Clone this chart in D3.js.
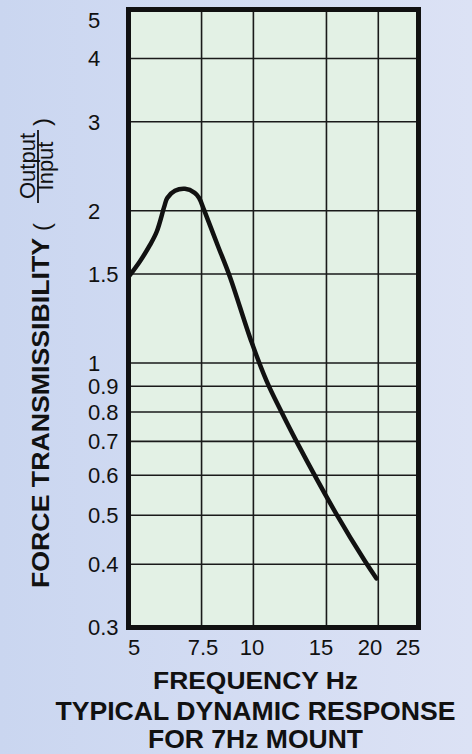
<!DOCTYPE html>
<html>
<head>
<meta charset="utf-8">
<script src="https://cdn.jsdelivr.net/npm/d3@7"></script>
<style>
  html, body { margin: 0; padding: 0; }
  body { width: 472px; height: 754px; overflow: hidden; }
  text { font-family: "Liberation Sans", Arial, sans-serif; fill: #111; }
</style>
</head>
<body>
<div class="chart"></div>
<script>
// values
var freqHz = [5.0, 5.33, 5.63, 5.85, 6.1, 6.2, 6.47, 6.84, 7.22, 7.4, 7.6,
              8.2, 8.78, 9.9, 10.77, 11.6, 12.7, 15.8, 18.6, 19.8];
var transmissibility = [1.48, 1.59, 1.71, 1.82, 2.04, 2.12, 2.19, 2.21, 2.17, 2.12, 2.01,
                        1.71, 1.48, 1.10, 0.92, 0.81, 0.70, 0.505, 0.405, 0.375];

var xTicks = [5, 7.5, 10, 15, 20, 25];
var yTicks = [0.3, 0.4, 0.5, 0.6, 0.7, 0.8, 0.9, 1, 1.5, 2, 3, 4, 5];

var W = 472, H = 754;
var plot = {left: 128.5, right: 418.5, top: 9.5, bottom: 627.5};

var x = d3.scaleLog()
    .domain([5, 25])
    .range([plot.left, plot.right]);

var y = d3.scaleLog()
    .domain([0.3, 5])
    .range([plot.bottom, plot.top]);

// tick labels in the original sit a bit inside the grid lines
var xLabel = x.copy().range([134, 408]);

var svg = d3.select('.chart')
    .append('svg')
    .attr('width', W)
    .attr('height', H);

var defs = svg.append('defs');
var bg = defs.append('linearGradient')
    .attr('id', 'bg')
    .attr('x1', 0).attr('x2', 1).attr('y1', 0).attr('y2', 0);
bg.append('stop').attr('offset', 0).attr('stop-color', '#cad6f0');
bg.append('stop').attr('offset', 1).attr('stop-color', '#dce2f5');

svg.append('rect')
    .attr('width', W)
    .attr('height', H)
    .attr('fill', 'url(#bg)');

svg.append('rect')
    .attr('x', plot.left)
    .attr('y', plot.top)
    .attr('width', plot.right - plot.left)
    .attr('height', plot.bottom - plot.top)
    .attr('fill', '#e3f1e5');

// grid
var grid = svg.append('g')
    .attr('stroke', '#1a1a1a')
    .attr('stroke-width', 1.6);

grid.selectAll('.vgrid')
    .data(xTicks.slice(1, -1))
    .enter()
    .append('line')
    .attr('class', 'vgrid')
    .attr('x1', function (d) { return x(d); })
    .attr('x2', function (d) { return x(d); })
    .attr('y1', plot.top)
    .attr('y2', plot.bottom);

grid.selectAll('.hgrid')
    .data(yTicks.slice(1, -1))
    .enter()
    .append('line')
    .attr('class', 'hgrid')
    .attr('x1', plot.left)
    .attr('x2', plot.right)
    .attr('y1', function (d) { return y(d); })
    .attr('y2', function (d) { return y(d); });

// response curve
var line = d3.line()
    .x(function (d, i) { return x(freqHz[i]); })
    .y(function (d) { return y(d); })
    .curve(d3.curveCatmullRom.alpha(0.5));

svg.append('path')
    .datum(transmissibility)
    .attr('d', line)
    .attr('fill', 'none')
    .attr('stroke', '#111')
    .attr('stroke-width', 4.5)
    .attr('stroke-linecap', 'round')
    .attr('stroke-linejoin', 'round');

// frame
svg.append('rect')
    .attr('x', plot.left)
    .attr('y', plot.top)
    .attr('width', plot.right - plot.left)
    .attr('height', plot.bottom - plot.top)
    .attr('fill', 'none')
    .attr('stroke', '#111')
    .attr('stroke-width', 5);

// tick labels
svg.append('g')
    .selectAll('text')
    .data(yTicks)
    .enter()
    .append('text')
    .attr('x', 88)
    .attr('y', function (d) { return Math.max(y(d), 20); })
    .attr('dy', '0.36em')
    .attr('font-size', 22)
    .text(function (d) { return d; });

svg.append('g')
    .selectAll('text')
    .data(xTicks)
    .enter()
    .append('text')
    .attr('x', function (d) { return xLabel(d); })
    .attr('y', 655)
    .attr('text-anchor', 'middle')
    .attr('font-size', 22)
    .text(function (d) { return d; });

// y title
var yt = svg.append('g')
    .attr('transform', 'translate(49,588) rotate(-90)');

yt.append('text')
    .attr('x', 0)
    .attr('y', 0)
    .attr('font-size', 24)
    .attr('font-weight', 'bold')
    .attr('textLength', 350)
    .attr('lengthAdjust', 'spacingAndGlyphs')
    .text('FORCE TRANSMISSIBILITY');

yt.append('text')
    .attr('x', 357)
    .attr('y', 1)
    .attr('font-size', 24)
    .text('(');

yt.append('text')
    .attr('x', 422)
    .attr('y', -14)
    .attr('text-anchor', 'middle')
    .attr('font-size', 22)
    .text('Output');

yt.append('line')
    .attr('x1', 385)
    .attr('x2', 458)
    .attr('y1', -11)
    .attr('y2', -11)
    .attr('stroke', '#111')
    .attr('stroke-width', 1.8);

yt.append('text')
    .attr('x', 422)
    .attr('y', 4)
    .attr('text-anchor', 'middle')
    .attr('font-size', 22)
    .text('Input');

yt.append('text')
    .attr('x', 462)
    .attr('y', 1)
    .attr('font-size', 24)
    .text(')');

// bottom titles
var titles = [
    {t: 'FREQUENCY Hz', y: 689, size: 24, len: 205},
    {t: 'TYPICAL DYNAMIC RESPONSE', y: 720, size: 26, len: 400},
    {t: 'FOR 7Hz MOUNT', y: 747.5, size: 26, len: 215}
];

svg.append('g')
    .selectAll('text')
    .data(titles)
    .enter()
    .append('text')
    .attr('x', 255.5)
    .attr('y', function (d) { return d.y; })
    .attr('text-anchor', 'middle')
    .attr('font-weight', 'bold')
    .attr('font-size', function (d) { return d.size; })
    .attr('textLength', function (d) { return d.len; })
    .attr('lengthAdjust', 'spacingAndGlyphs')
    .text(function (d) { return d.t; });
</script>
</body>
</html>
